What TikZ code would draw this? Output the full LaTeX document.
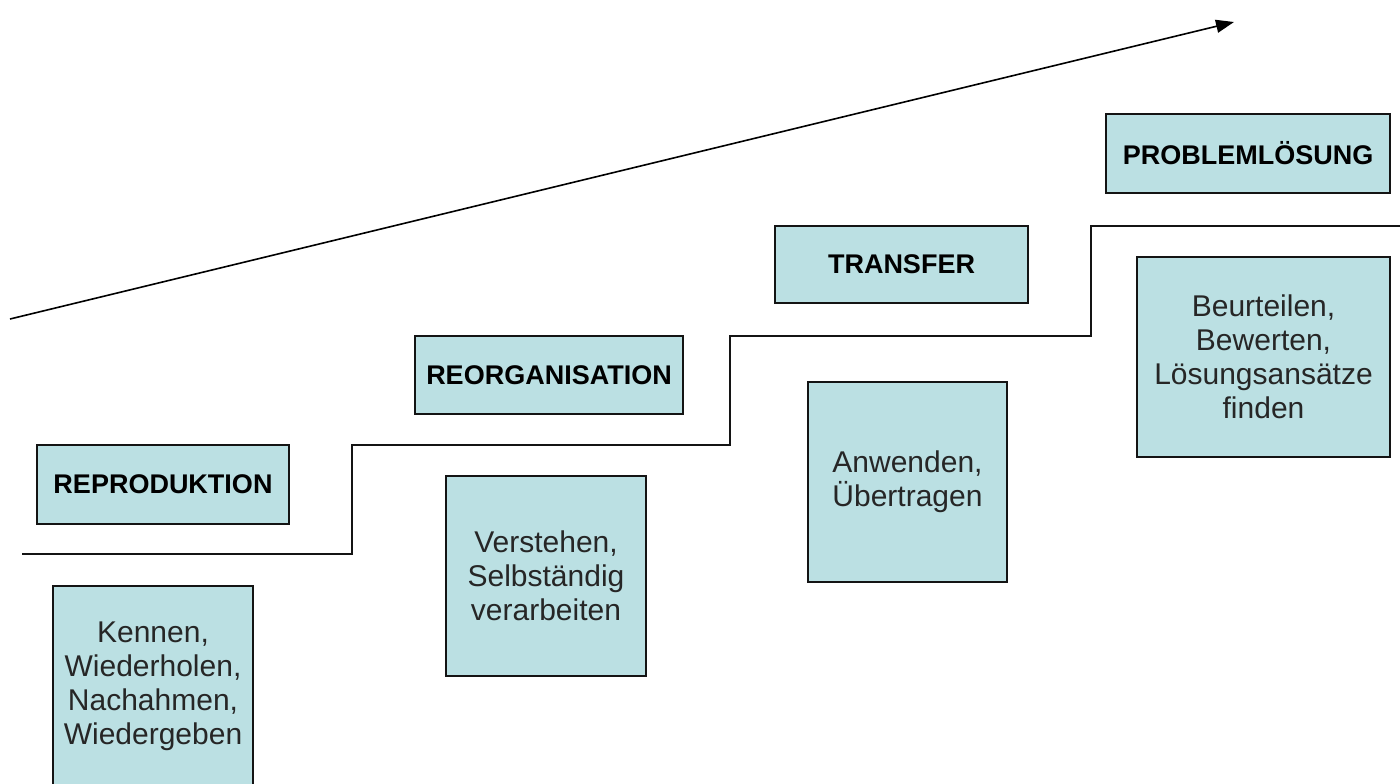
\documentclass[tikz,border=0pt]{standalone}
\usepackage{fontspec}
\setmainfont{Liberation Sans}
\usetikzlibrary{arrows.meta}
\definecolor{boxfill}{RGB}{187,224,227}
\definecolor{linegray}{RGB}{20,20,20}
\tikzset{
  stagebox/.style={draw=linegray, line width=0.7pt, fill=boxfill, rectangle, inner sep=0pt,
    font=\fontsize{13.5pt}{16pt}\selectfont\bfseries},
  descbox/.style={draw=linegray, line width=0.7pt, fill=boxfill, rectangle, inner sep=0pt,
    align=center, font=\fontsize{15pt}{17pt}\selectfont, text=black!85},
  stairline/.style={draw=linegray, line width=0.8pt},
  trendarrow/.style={draw=black, line width=0.8pt, -{Triangle[length=9pt,width=6.5pt]}}
}
\begin{document}
\begin{tikzpicture}[x=0.5pt,y=-0.5pt]
\useasboundingbox (0,0) rectangle (1400,783);
% trend arrow
\coordinate (a0) at (10,319);
\coordinate (a1) at (1234,22);
\draw[trendarrow] (a0) -- (a1);
% stairs
\coordinate (s0) at (22,554);
\coordinate (s1) at (352,554);
\coordinate (s2) at (352,445);
\coordinate (s3) at (730,445);
\coordinate (s4) at (730,336);
\coordinate (s5) at (1091,336);
\coordinate (s6) at (1091,226);
\coordinate (s7) at (1400,226);
\draw[stairline] (s0) -- (s1) -- (s2) -- (s3) -- (s4) -- (s5) -- (s6) -- (s7);
% stage labels
\node[stagebox, minimum width=126pt, minimum height=39.5pt] (rep) at (163,484.5) {REPRODUKTION};
\node[stagebox, minimum width=134pt, minimum height=39pt] (reorg) at (549,375) {REORGANISATION};
\node[stagebox, minimum width=126.5pt, minimum height=38.5pt] (transfer) at (901.5,264.5) {TRANSFER};
\node[stagebox, minimum width=142pt, minimum height=39.5pt] (problem) at (1248,153.5) {PROBLEML\"OSUNG};
% descriptions
\node[descbox, minimum width=100pt, minimum height=100pt] (kennen) at (153,686) {Kennen,\\Wiederholen,\\Nachahmen,\\Wiedergeben};
\node[descbox, minimum width=100pt, minimum height=100pt] (verstehen) at (546,576) {Verstehen,\\Selbst\"andig\\verarbeiten};
\node[descbox, minimum width=99.5pt, minimum height=100pt] (anwenden) at (907.5,482) {Anwenden,\\\"Ubertragen};
\node[descbox, minimum width=126.5pt, minimum height=100pt] (beurteilen) at (1263.5,357) {Beurteilen,\\Bewerten,\\L\"osungsans\"atze\\finden};
\end{tikzpicture}
\end{document}
